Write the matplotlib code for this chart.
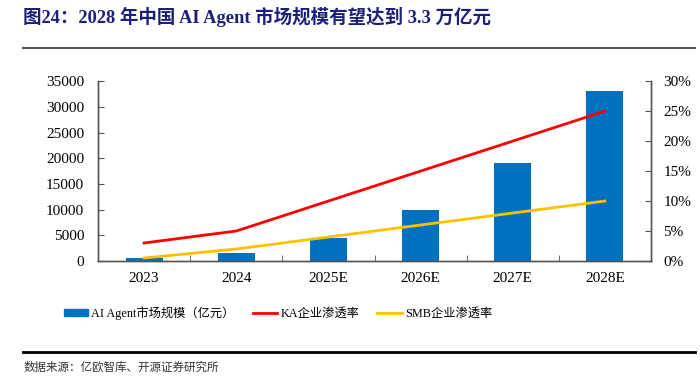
import matplotlib
matplotlib.use("Agg")
import matplotlib.pyplot as plt
from matplotlib.lines import Line2D

plt.rcParams['font.family'] = ['Liberation Serif', 'Noto Sans CJK SC']

# --- data ---
years = ["2023", "2024", "2025E", "2026E", "2027E", "2028E"]
market_size = [600, 1500, 4400, 10000, 19000, 33000]   # 亿元
ka_rate = [3, 5, 10, 15, 20, 25]                       # %
smb_rate = [0.5, 2, 4, 6, 8, 10]                       # %

BAR_COLOR = "#0070C0"
KA_COLOR = "#FF0000"
SMB_COLOR = "#FFC000"
TITLE_COLOR = "#1B1F7A"

fig = plt.figure(figsize=(7, 3.81), dpi=100)
ax = fig.add_axes([0.14, 0.315, 0.79, 0.472])
ax2 = ax.twinx()

x = list(range(len(years)))
ax.bar(x, market_size, width=0.4, color=BAR_COLOR, zorder=2)
ax2.plot(x, ka_rate, color=KA_COLOR, lw=2.0)
ax2.plot(x, smb_rate, color=SMB_COLOR, lw=2.0)

ax.set_xlim(-0.5, len(years) - 0.5)
ax.set_ylim(0, 35000)
ax.set_yticks(range(0, 35001, 5000))
ax2.set_ylim(0, 30)
ax2.set_yticks(range(0, 31, 5))
ax2.set_yticklabels([f"{v}%" for v in range(0, 31, 5)])

ax.set_xticks(x)
ax.set_xticklabels(years)
ax.set_xticks([i + 0.5 for i in x[:-1]], minor=True)
ax.tick_params(axis='x', which='major', length=0, labelsize=11, pad=8)
ax.tick_params(axis='x', which='minor', direction='in', length=4, color='#555555')
ax.tick_params(axis='y', direction='in', length=4, labelsize=11, color='#555555', pad=10)
ax2.tick_params(axis='y', direction='in', length=4, labelsize=11, color='#555555', pad=9)

for a in (ax, ax2):
    a.spines['top'].set_visible(False)
    for s in ('left', 'right', 'bottom'):
        a.spines[s].set_color('#555555')
        a.spines[s].set_linewidth(1.0)
    a.patch.set_visible(False)

# legend
handles = [
    plt.Rectangle((0, 0), 1, 1, color=BAR_COLOR),
    Line2D([0], [0], color=KA_COLOR, lw=2.0),
    Line2D([0], [0], color=SMB_COLOR, lw=2.0),
]
labels = ["AI Agent市场规模（亿元）", "KA企业渗透率", "SMB企业渗透率"]
fig.legend(handles, labels, loc='center', bbox_to_anchor=(0.397, 0.178), ncol=3,
           frameon=False, fontsize=8.8, handlelength=2.0, handleheight=0.45,
           handletextpad=0.25, columnspacing=1.5)

# title and footer
fig.text(0.033, 0.955, "图24：2028 年中国 AI Agent 市场规模有望达到 3.3 万亿元",
         color=TITLE_COLOR, fontsize=13.3, fontweight='bold', ha='left', va='center')
fig.add_artist(Line2D([0.033, 0.993], [0.874, 0.874], color='#555555', lw=1.5))
fig.add_artist(Line2D([0.033, 0.993], [0.076, 0.076], color='black', lw=2.0))
fig.text(0.033, 0.037, "数据来源：亿欧智库、开源证券研究所", color='#333333',
         fontsize=8.3, ha='left', va='center', family=['Noto Sans CJK SC'])

fig.savefig("out.png", dpi=100, facecolor='white')
